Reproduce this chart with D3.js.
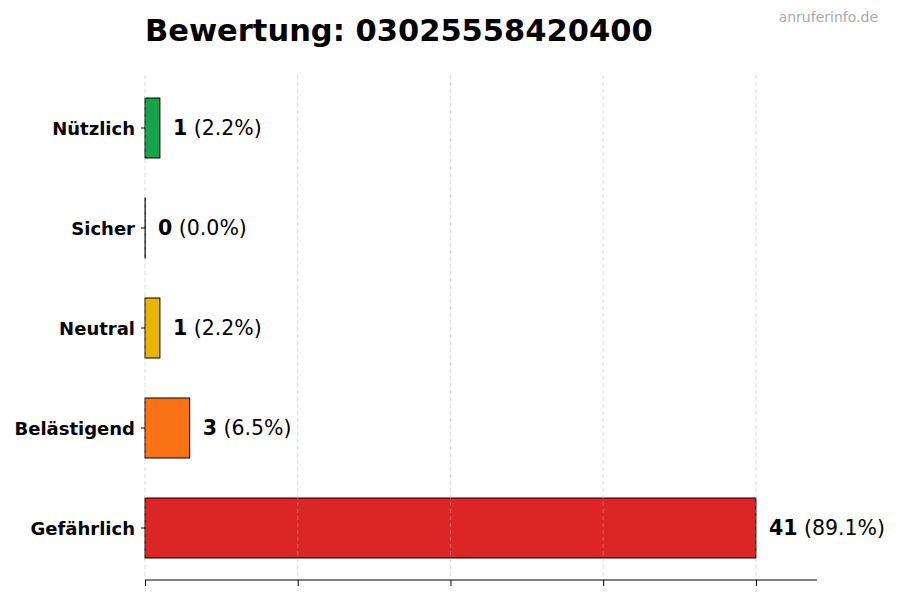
<!DOCTYPE html>
<html>
<head>
<meta charset="utf-8">
<script src="https://cdn.jsdelivr.net/npm/d3@7"></script>
<style>
  html, body { margin: 0; padding: 0; background: #fff; }
  svg { display: block; font-family: "DejaVu Sans", sans-serif; }
</style>
</head>
<body>
<svg id="chart" width="900" height="600"></svg>
<script>
const categories = ["Nützlich", "Sicher", "Neutral", "Belästigend", "Gefährlich"];
const counts = [1, 0, 1, 3, 41];
const percents = ["2.2%", "0.0%", "2.2%", "6.5%", "89.1%"];
const colors = ["#16a34a", "#6b7280", "#eab308", "#f97316", "#dc2626"];
const xTicks = [0, 10.25, 20.5, 30.75, 41];
const xMax = 45.1;
const titleText = "Bewertung: 03025558420400";
const watermark = "anruferinfo.de";

(function () {
const svg = d3.select("#chart");
const mLeft = 145, mRight = 817, mTop = 78, mBottom = 578, axisY = 580;

const x = d3.scaleLinear().domain([0, xMax]).range([mLeft, mRight]);
const y = d3.scaleBand().domain(categories).range([mTop, mBottom]).paddingInner(0.4).paddingOuter(0.2);

// bars
svg.append("g").selectAll("rect").data(categories).join("rect")
  .attr("x", x(0))
  .attr("y", d => y(d))
  .attr("width", (d, i) => Math.max(x(counts[i]) - x(0), 0.3))
  .attr("height", y.bandwidth())
  .attr("fill", (d, i) => colors[i])
  .attr("stroke", "#000").attr("stroke-width", 1);

// grid (drawn over bars, faint)
svg.append("g").selectAll("line").data(xTicks).join("line")
  .attr("x1", d => x(d)).attr("x2", d => x(d))
  .attr("y1", 75).attr("y2", axisY)
  .attr("stroke", "#b0b0b0").attr("stroke-opacity", 0.6)
  .attr("stroke-width", 0.8).attr("stroke-dasharray", "4,3");

// value labels
const lbl = svg.append("g").selectAll("text").data(categories).join("text")
  .attr("x", (d, i) => x(counts[i]) + 13)
  .attr("y", d => y(d) + y.bandwidth() / 2)
  .attr("dy", "0.36em")
  .attr("font-size", 20.5)
  .attr("fill", "#000");
lbl.append("tspan").attr("font-weight", "bold").text((d, i) => counts[i]);
lbl.append("tspan").text((d, i) => " (" + percents[i] + ")");

// x axis
const xAxis = d3.axisBottom(x).tickValues(xTicks).tickFormat("").tickSize(6).tickSizeOuter(0);
const gx = svg.append("g").attr("transform", `translate(0,${axisY})`).call(xAxis);
gx.select(".domain").attr("stroke", "#000").attr("d", `M${mLeft},0H${mRight}`);
gx.selectAll(".tick line").attr("stroke", "#000");

// y axis
const yAxis = d3.axisLeft(y).tickSize(4).tickPadding(6);
const gy = svg.append("g").attr("transform", `translate(${mLeft},0)`).call(yAxis);
gy.select(".domain").remove();
gy.selectAll(".tick line").attr("stroke", "#000");
gy.selectAll(".tick text").attr("font-size", 18).attr("font-weight", "bold")
  .attr("dy", "0.4em")
  .attr("font-family", "DejaVu Sans, sans-serif").attr("fill", "#000");

// title
svg.append("text").attr("x", 145).attr("y", 41)
  .attr("font-size", 30.5).attr("font-weight", "bold").attr("fill", "#000")
  .text(titleText);

svg.append("text").attr("x", 878).attr("y", 22).attr("text-anchor", "end")
  .attr("font-size", 14).attr("fill", "#aaaaaa")
  .text(watermark);
})();
</script>
</body>
</html>
